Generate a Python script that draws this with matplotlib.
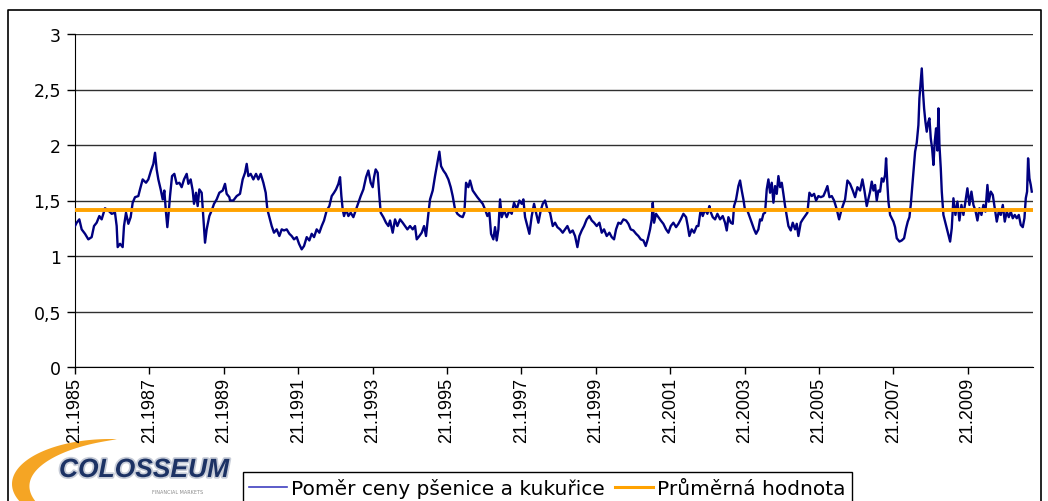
import numpy as np
import matplotlib
matplotlib.use("Agg")
import matplotlib.pyplot as plt
from matplotlib.lines import Line2D
import matplotlib.patheffects as pe

# ratio of wheat to corn price (decimal years)
dates = [
    1985.000, 1985.045, 1985.116, 1985.179, 1985.269, 1985.358, 1985.448, 1985.511, 1985.582, 1985.654,
    1985.717, 1985.806, 1985.896, 1985.986, 1986.075, 1986.120, 1986.147, 1986.210, 1986.281, 1986.317,
    1986.371, 1986.434, 1986.496, 1986.550, 1986.613, 1986.702, 1986.747, 1986.819, 1986.909, 1986.971,
    1987.043, 1987.106, 1987.151, 1987.195, 1987.240, 1987.303, 1987.357, 1987.401, 1987.446, 1987.482,
    1987.518, 1987.554, 1987.608, 1987.670, 1987.733, 1987.805, 1987.867, 1987.930, 1988.002, 1988.047,
    1988.109, 1988.163, 1988.199, 1988.253, 1988.297, 1988.342, 1988.405, 1988.450, 1988.495, 1988.539,
    1988.611, 1988.674, 1988.737, 1988.808, 1988.880, 1988.970, 1989.032, 1989.077, 1989.149,
    1989.167, 1989.256, 1989.346, 1989.435, 1989.507, 1989.570, 1989.615, 1989.659, 1989.722, 1989.794,
    1989.866, 1989.928, 1989.991, 1990.063, 1990.126, 1990.170, 1990.224, 1990.287, 1990.349, 1990.421,
    1990.493, 1990.556, 1990.618, 1990.690, 1990.762, 1990.824, 1990.887, 1990.959, 1991.022, 1991.093,
    1991.156, 1991.228, 1991.299, 1991.362, 1991.425, 1991.496, 1991.568, 1991.631, 1991.694, 1991.765,
    1991.837, 1991.900, 1991.962, 1992.016, 1992.079, 1992.124, 1992.160, 1992.195, 1992.231, 1992.285,
    1992.348, 1992.410, 1992.482, 1992.554, 1992.616, 1992.679, 1992.751, 1992.823, 1992.885, 1992.948,
    1993.002, 1993.038, 1993.082, 1993.136, 1993.181, 1993.217, 1993.288, 1993.360, 1993.423,
    1993.468, 1993.539, 1993.602, 1993.665, 1993.737, 1993.808, 1993.871, 1993.934, 1994.005, 1994.077,
    1994.140, 1994.185, 1994.256, 1994.319, 1994.382, 1994.435, 1994.498, 1994.543, 1994.615, 1994.677,
    1994.740, 1994.794, 1994.839, 1994.901, 1994.964, 1995.036, 1995.099, 1995.152, 1995.215, 1995.278,
    1995.349, 1995.421, 1995.466, 1995.511, 1995.573, 1995.618, 1995.690, 1995.753, 1995.815, 1995.887,
    1995.959, 1996.022, 1996.084, 1996.138, 1996.183, 1996.245, 1996.290, 1996.335, 1996.380, 1996.425,
    1996.470, 1996.532, 1996.604, 1996.676, 1996.738, 1996.801, 1996.873, 1996.944, 1997.007, 1997.052,
    1997.097, 1997.160, 1997.213, 1997.276, 1997.339, 1997.392, 1997.455, 1997.518, 1997.572, 1997.634,
    1997.697,
    1997.769, 1997.841, 1997.903, 1997.966, 1998.038, 1998.109, 1998.172, 1998.235, 1998.306, 1998.378,
    1998.441, 1998.504, 1998.557, 1998.620, 1998.683, 1998.754, 1998.826, 1998.889, 1998.952, 1999.023,
    1999.095, 1999.158, 1999.220, 1999.292, 1999.364, 1999.427, 1999.489, 1999.543, 1999.606, 1999.669,
    1999.740, 1999.812, 1999.875, 1999.937, 2000.009, 2000.081, 2000.143, 2000.206, 2000.278, 2000.341,
    2000.394, 2000.457, 2000.502, 2000.529, 2000.565, 2000.618, 2000.681, 2000.744, 2000.815, 2000.887,
    2000.950, 2001.013, 2001.084, 2001.156, 2001.219, 2001.282, 2001.353, 2001.425, 2001.470, 2001.514,
    2001.577, 2001.640, 2001.712, 2001.756, 2001.819, 2001.873, 2001.935, 2001.998, 2002.052,
    2002.070, 2002.142, 2002.204, 2002.267, 2002.339, 2002.410, 2002.473, 2002.518, 2002.563, 2002.626,
    2002.679, 2002.715, 2002.769, 2002.831, 2002.876, 2002.921, 2002.966, 2003.011, 2003.073, 2003.127,
    2003.190, 2003.253, 2003.306, 2003.369, 2003.414, 2003.459, 2003.504, 2003.548, 2003.593, 2003.638,
    2003.683, 2003.728, 2003.773, 2003.817, 2003.862, 2003.907, 2003.952, 2003.997, 2004.041, 2004.086,
    2004.131, 2004.176, 2004.239, 2004.292, 2004.355, 2004.400, 2004.444, 2004.507, 2004.561, 2004.624,
    2004.686, 2004.740, 2004.803, 2004.866, 2004.919, 2004.982, 2005.045, 2005.116, 2005.179, 2005.224,
    2005.278, 2005.341, 2005.403, 2005.475, 2005.538, 2005.582, 2005.636, 2005.699, 2005.762, 2005.833,
    2005.905, 2005.968, 2006.030, 2006.102, 2006.165, 2006.219, 2006.281,
    2006.371, 2006.416, 2006.461, 2006.505, 2006.550, 2006.595, 2006.640, 2006.685, 2006.730, 2006.774,
    2006.801, 2006.837, 2006.864, 2006.909, 2006.954, 2006.998, 2007.043, 2007.088, 2007.160, 2007.222,
    2007.285, 2007.339, 2007.384, 2007.428, 2007.464, 2007.500, 2007.536, 2007.581, 2007.625, 2007.670,
    2007.697, 2007.733, 2007.760, 2007.787, 2007.823, 2007.858, 2007.894, 2007.930, 2007.966, 2008.002,
    2008.038, 2008.074, 2008.109, 2008.145, 2008.181, 2008.208, 2008.235, 2008.271, 2008.298, 2008.342,
    2008.387, 2008.450, 2008.522, 2008.566, 2008.611, 2008.665, 2008.719, 2008.772, 2008.826, 2008.880,
    2008.934, 2008.987, 2009.041, 2009.095, 2009.149, 2009.202, 2009.256, 2009.310, 2009.364, 2009.417,
    2009.471, 2009.525, 2009.561, 2009.615, 2009.669, 2009.722, 2009.776, 2009.830, 2009.884, 2009.938,
    2009.991, 2010.045, 2010.099, 2010.153, 2010.206, 2010.260, 2010.314, 2010.368, 2010.421, 2010.475,
    2010.520, 2010.556, 2010.591, 2010.618, 2010.654, 2010.690, 2010.717,
]
ratio = [
    1.27, 1.30, 1.33, 1.24, 1.20, 1.15, 1.17, 1.27, 1.30, 1.36,
    1.33, 1.43, 1.41, 1.38, 1.39, 1.27, 1.08, 1.11, 1.08, 1.27,
    1.39, 1.29, 1.35, 1.48, 1.53, 1.54, 1.60, 1.69, 1.66, 1.69,
    1.77, 1.83, 1.93, 1.78, 1.69, 1.60, 1.51, 1.59, 1.39, 1.26,
    1.39, 1.54, 1.72, 1.74, 1.65, 1.66, 1.62, 1.69, 1.74, 1.65,
    1.69, 1.59, 1.47, 1.57, 1.45, 1.60, 1.57, 1.35, 1.12, 1.24,
    1.36, 1.41, 1.47, 1.51, 1.57, 1.59, 1.65, 1.56, 1.53,
    1.50, 1.50, 1.54, 1.56, 1.69, 1.75, 1.83, 1.72, 1.74, 1.69,
    1.74, 1.69, 1.74, 1.66, 1.57, 1.42, 1.35, 1.27, 1.21, 1.24,
    1.18, 1.24, 1.23, 1.24, 1.20, 1.18, 1.15, 1.17, 1.11, 1.06,
    1.09, 1.17, 1.14, 1.20, 1.17, 1.24, 1.21, 1.27, 1.32, 1.41,
    1.45, 1.54, 1.57, 1.60, 1.65, 1.71, 1.54, 1.42, 1.36, 1.42,
    1.36, 1.39, 1.35, 1.42, 1.48, 1.54, 1.60, 1.71, 1.77, 1.66,
    1.62, 1.71, 1.78, 1.75, 1.54, 1.39, 1.35, 1.30, 1.27,
    1.32, 1.21, 1.33, 1.27, 1.33, 1.30, 1.27, 1.24, 1.27, 1.24,
    1.27, 1.15, 1.18, 1.21, 1.27, 1.18, 1.38, 1.51, 1.59, 1.72,
    1.84, 1.94, 1.81, 1.77, 1.74, 1.69, 1.62, 1.54, 1.42, 1.38,
    1.36, 1.35, 1.39, 1.66, 1.62, 1.68, 1.59, 1.56, 1.53, 1.50,
    1.47, 1.42, 1.36, 1.39, 1.20, 1.15, 1.26, 1.14, 1.24, 1.51,
    1.35, 1.41, 1.35, 1.41, 1.38, 1.48, 1.42, 1.50, 1.47, 1.51,
    1.35, 1.27, 1.20, 1.36, 1.47, 1.39, 1.30, 1.41, 1.47, 1.50,
    1.42,
    1.39, 1.27, 1.30, 1.26, 1.24, 1.21, 1.24, 1.27, 1.21, 1.23,
    1.18, 1.08, 1.18, 1.23, 1.27, 1.33, 1.36, 1.32, 1.30, 1.27,
    1.30, 1.21, 1.24, 1.18, 1.21, 1.17, 1.15, 1.24, 1.30, 1.29,
    1.33, 1.32, 1.29, 1.24, 1.23, 1.20, 1.18, 1.15, 1.14, 1.09,
    1.15, 1.24, 1.33, 1.48, 1.30, 1.38, 1.35, 1.32, 1.29, 1.24,
    1.21, 1.27, 1.30, 1.26, 1.29, 1.33, 1.38, 1.35, 1.27, 1.18,
    1.24, 1.21, 1.27, 1.27, 1.42, 1.36, 1.42, 1.38, 1.45,
    1.41, 1.35, 1.33, 1.38, 1.33, 1.36, 1.30, 1.23, 1.35, 1.30,
    1.29, 1.45, 1.51, 1.63, 1.68, 1.59, 1.51, 1.41, 1.41, 1.36,
    1.30, 1.24, 1.20, 1.24, 1.33, 1.32, 1.38, 1.39, 1.60, 1.69,
    1.57, 1.66, 1.48, 1.63, 1.56, 1.72, 1.62, 1.66, 1.56, 1.45,
    1.36, 1.27, 1.23, 1.30, 1.24, 1.29, 1.18, 1.30, 1.33, 1.36,
    1.39, 1.57, 1.54, 1.56, 1.50, 1.54, 1.53, 1.54, 1.59, 1.63,
    1.53, 1.54, 1.50, 1.42, 1.33, 1.39, 1.45, 1.51, 1.68, 1.65,
    1.59, 1.53, 1.62, 1.59, 1.69, 1.59, 1.45,
    1.58, 1.67, 1.59, 1.64, 1.50, 1.59, 1.58, 1.70, 1.67, 1.73,
    1.88, 1.64, 1.49, 1.37, 1.34, 1.31, 1.26, 1.16, 1.13, 1.14,
    1.16, 1.25, 1.31, 1.35, 1.46, 1.61, 1.76, 1.94, 2.02, 2.18,
    2.42, 2.57, 2.69, 2.51, 2.33, 2.21, 2.12, 2.20, 2.24, 2.06,
    1.97, 1.82, 2.03, 2.15, 1.95, 2.33, 2.00, 1.79, 1.58, 1.37,
    1.31, 1.23, 1.13, 1.25, 1.52, 1.37, 1.49, 1.32, 1.46, 1.37,
    1.49, 1.61, 1.46, 1.58, 1.46, 1.41, 1.32, 1.43, 1.37, 1.46,
    1.40, 1.64, 1.49, 1.58, 1.55, 1.43, 1.31, 1.40, 1.37, 1.46,
    1.31, 1.40, 1.35, 1.40, 1.34, 1.37, 1.34, 1.37, 1.28, 1.26,
    1.34, 1.52, 1.58, 1.88, 1.70, 1.64, 1.58,
]
mean_ratio = 1.41

tick_years = [1985, 1987, 1989, 1991, 1993, 1995, 1997, 1999, 2001, 2003, 2005, 2007, 2009]
tick_labels = ["21.%d" % y for y in tick_years]
y_ticks = [0, 0.5, 1, 1.5, 2, 2.5, 3]
y_tick_labels = ["0", "0,5", "1", "1,5", "2", "2,5", "3"]

series_label = "Poměr ceny pšenice a kukuřice"
mean_label = "Průměrná hodnota"

W, H = 1048, 502
fig = plt.figure(figsize=(W / 100, H / 100), dpi=100)

# decoration layer in pixel coordinates (outer frame, logo)
deco = fig.add_axes([0, 0, 1, 1], zorder=0)
deco.set_xlim(0, W)
deco.set_ylim(H, 0)
deco.axis("off")
deco.plot([7.5, 7.5, 1040.5, 1040.5], [H + 5, 10.5, 10.5, H + 5], color="black", lw=1.2)

# orange swoosh of the logo: thin tip at top right, thick on the left
t = np.linspace(np.radians(86), np.radians(232), 120)
s = np.linspace(0, 1, 120)
thick = 18 * np.sin(np.pi * s * 0.9) ** 0.8
cx, cy, rx, ry = 110, 485, 98, 45
outer_x = cx + rx * np.cos(t)
outer_y = cy - ry * np.sin(t)
inner_x = cx + (rx - thick) * np.cos(t)
inner_y = cy - (ry - thick * 0.6) * np.sin(t)
deco.fill(np.concatenate([outer_x, inner_x[::-1]]), np.concatenate([outer_y, inner_y[::-1]]),
          color="#f5a524", lw=0)
deco.text(144, 471, "COLOSSEUM", ha="center", va="center", fontsize=19,
          family=["Liberation Sans", "DejaVu Sans"], weight="bold", style="italic",
          color="#1c3264",
          path_effects=[pe.withStroke(linewidth=2.5, foreground="#c8cdd8")])
deco.text(178, 493, "FINANCIAL MARKETS", ha="center", va="center", fontsize=3.5,
          color="#8a8a8a")

# main chart
ax = fig.add_axes([75 / W, 1 - 368 / H, (1033 - 75) / W, (368 - 35) / H], zorder=1)
ax.patch.set_alpha(0)
ax.plot(dates, ratio, color="#000080", lw=1.7, zorder=3)
ax.axhline(mean_ratio, color="#FFA200", lw=2.8, zorder=4)

ax.set_xlim(1985, 2010.75)
ax.set_ylim(0, 3)
ax.set_yticks(y_ticks)
ax.set_yticklabels(y_tick_labels)
ax.set_xticks(tick_years)
ax.set_xticklabels(tick_labels, rotation=90, family=["Liberation Sans", "DejaVu Sans"],
                   fontsize=13)
ax.tick_params(axis="y", length=6, width=1, pad=4, labelsize=12.5, color="black")
ax.tick_params(axis="x", length=5, width=1, pad=2, color="black")

ax.grid(axis="y", color="#303030", lw=1)
for sp in ["top", "right"]:
    ax.spines[sp].set_visible(False)
ax.spines["left"].set_color("black")
ax.spines["bottom"].set_color("black")

handles = [Line2D([], [], color="#4040c0", lw=1.2),
           Line2D([], [], color="#FFA200", lw=2.2)]
leg = fig.legend(handles, [series_label, mean_label], loc="upper left",
                 bbox_to_anchor=(243 / W, 1 - 473 / H), ncol=2, frameon=True,
                 fancybox=False, edgecolor="black", framealpha=1,
                 prop={"family": "DejaVu Sans", "size": 14.5},
                 handlelength=1.9, handletextpad=0.2, columnspacing=0.5,
                 borderpad=0.3, borderaxespad=0)
leg.get_frame().set_linewidth(1)

fig.savefig("out.png", dpi=100)
